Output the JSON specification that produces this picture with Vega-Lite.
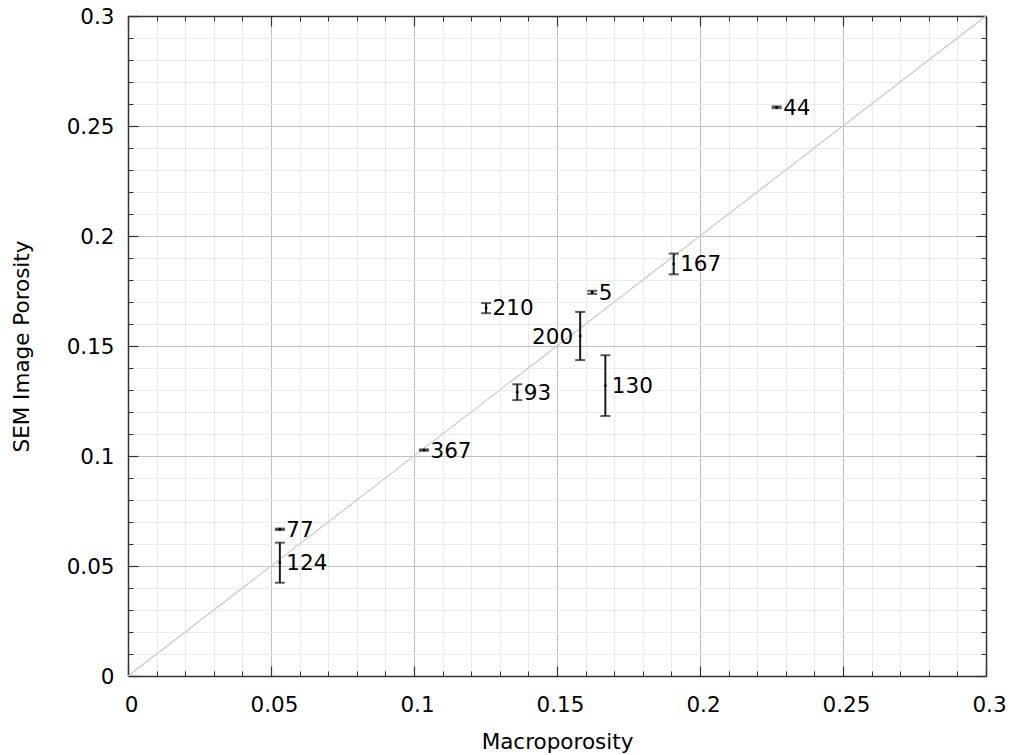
{
  "$schema": "https://vega.github.io/schema/vega-lite/v6.json",
  "width": 858,
  "height": 660,
  "autosize": {"type": "none"},
  "padding": {"left": 128, "top": 16, "right": 26, "bottom": 79},
  "background": "white",
  "config": {
    "font": "DejaVu Sans",
    "view": {"stroke": null},
    "axis": {
      "labelFont": "DejaVu Sans",
      "titleFont": "DejaVu Sans",
      "labelFontSize": 21.5,
      "titleFontSize": 21.5,
      "titleFontWeight": "normal",
      "labelColor": "#000000",
      "titleColor": "#000000",
      "tickColor": "#333333",
      "domainColor": "#333333",
      "labelFlush": false,
      "labelOverlap": false,
      "format": "~g"
    }
  },
  "data": {
    "values": [
      {"name": "44", "x": 0.2268, "y": 0.2585, "lo": 0.2581, "hi": 0.2589},
      {"name": "167", "x": 0.1908, "y": 0.1873, "lo": 0.1826, "hi": 0.1920},
      {"name": "5", "x": 0.1623, "y": 0.1744, "lo": 0.1737, "hi": 0.1751},
      {"name": "210", "x": 0.1252, "y": 0.1673, "lo": 0.1649, "hi": 0.1695},
      {"name": "200", "x": 0.1581, "y": 0.1545, "lo": 0.1436, "hi": 0.1655},
      {"name": "130", "x": 0.1669, "y": 0.1320, "lo": 0.1182, "hi": 0.1458},
      {"name": "93", "x": 0.1361, "y": 0.1290, "lo": 0.1254, "hi": 0.1326},
      {"name": "367", "x": 0.1035, "y": 0.1027, "lo": 0.1024, "hi": 0.1030},
      {"name": "77", "x": 0.0531, "y": 0.0667, "lo": 0.0664, "hi": 0.0670},
      {"name": "124", "x": 0.0531, "y": 0.0515, "lo": 0.0424, "hi": 0.0606}
    ]
  },
  "resolve": {"axis": {"x": "independent", "y": "independent"}},
  "layer": [
    {
      "data": {"values": [{"d": 0}, {"d": 0.3}]},
      "mark": {"type": "line", "color": "#c8c8c8", "strokeWidth": 1.1},
      "encoding": {
        "x": {"field": "d", "type": "quantitative",
          "scale": {"domain": [0, 0.3], "nice": false, "zero": false},
          "axis": {"orient": "bottom", "values": [0.01,0.02,0.03,0.04,0.06,0.07,0.08,0.09,0.11,0.12,0.13,0.14,0.16,0.17,0.18,0.19,0.21,0.22,0.23,0.24,0.26,0.27,0.28,0.29],
            "labels": false, "title": null, "domain": false, "ticks": true, "tickSize": -5, "tickWidth": 1,
            "grid": true, "gridColor": "#ebebeb", "gridWidth": 1}},
        "y": {"field": "d", "type": "quantitative",
          "scale": {"domain": [0, 0.3], "nice": false, "zero": false},
          "axis": {"orient": "left", "values": [0.01,0.02,0.03,0.04,0.06,0.07,0.08,0.09,0.11,0.12,0.13,0.14,0.16,0.17,0.18,0.19,0.21,0.22,0.23,0.24,0.26,0.27,0.28,0.29],
            "labels": false, "title": null, "domain": false, "ticks": true, "tickSize": -5, "tickWidth": 1,
            "grid": true, "gridColor": "#ebebeb", "gridWidth": 1}}
      }
    },
    {
      "mark": {"type": "rule", "color": "#1a1a1a", "strokeWidth": 2},
      "encoding": {
        "x": {"field": "x", "type": "quantitative",
          "scale": {"domain": [0, 0.3], "nice": false, "zero": false},
          "axis": {"orient": "bottom", "values": [0, 0.05, 0.1, 0.15, 0.2, 0.25, 0.3],
            "title": "Macroporosity", "titlePadding": 16, "domain": true, "domainWidth": 1.5,
            "ticks": true, "tickSize": -10, "tickWidth": 1.2, "labelPadding": 28, "labelOffset": 3,
            "grid": true, "gridColor": "#c0c0c0", "gridWidth": 1}},
        "y": {"field": "lo", "type": "quantitative",
          "scale": {"domain": [0, 0.3], "nice": false, "zero": false},
          "axis": {"orient": "left", "values": [0, 0.05, 0.1, 0.15, 0.2, 0.25, 0.3],
            "title": "SEM Image Porosity", "titlePadding": 33, "domain": true, "domainWidth": 1.5,
            "ticks": true, "tickSize": -10, "tickWidth": 1.2, "labelPadding": 24, "labelOffset": 1.5,
            "grid": true, "gridColor": "#c0c0c0", "gridWidth": 1}},
        "y2": {"field": "hi"}
      }
    },
    {
      "mark": {"type": "tick", "orient": "horizontal", "color": "#1a1a1a", "size": 10, "thickness": 2},
      "encoding": {
        "x": {"field": "x", "type": "quantitative",
          "scale": {"domain": [0, 0.3], "nice": false, "zero": false},
          "axis": {"orient": "top", "values": [0.01,0.02,0.03,0.04,0.06,0.07,0.08,0.09,0.11,0.12,0.13,0.14,0.16,0.17,0.18,0.19,0.21,0.22,0.23,0.24,0.26,0.27,0.28,0.29],
            "labels": false, "title": null, "domain": false, "ticks": true, "tickSize": -5, "tickWidth": 1, "grid": false}},
        "y": {"field": "lo", "type": "quantitative",
          "scale": {"domain": [0, 0.3], "nice": false, "zero": false},
          "axis": {"orient": "right", "values": [0.01,0.02,0.03,0.04,0.06,0.07,0.08,0.09,0.11,0.12,0.13,0.14,0.16,0.17,0.18,0.19,0.21,0.22,0.23,0.24,0.26,0.27,0.28,0.29],
            "labels": false, "title": null, "domain": false, "ticks": true, "tickSize": -5, "tickWidth": 1, "grid": false}}
      }
    },
    {
      "mark": {"type": "tick", "orient": "horizontal", "color": "#1a1a1a", "size": 10, "thickness": 2},
      "encoding": {
        "x": {"field": "x", "type": "quantitative",
          "scale": {"domain": [0, 0.3], "nice": false, "zero": false},
          "axis": {"orient": "top", "values": [0, 0.05, 0.1, 0.15, 0.2, 0.25, 0.3],
            "labels": false, "title": null, "domain": true, "domainWidth": 1.5, "ticks": true, "tickSize": -10, "tickWidth": 1.2, "grid": false}},
        "y": {"field": "hi", "type": "quantitative",
          "scale": {"domain": [0, 0.3], "nice": false, "zero": false},
          "axis": {"orient": "right", "values": [0, 0.05, 0.1, 0.15, 0.2, 0.25, 0.3],
            "labels": false, "title": null, "domain": true, "domainWidth": 1.5, "ticks": true, "tickSize": -10, "tickWidth": 1.2, "grid": false}}
      }
    },
    {
      "mark": {"type": "circle", "color": "#000000", "size": 8, "opacity": 1},
      "encoding": {
        "x": {"field": "x", "type": "quantitative", "axis": null},
        "y": {"field": "y", "type": "quantitative", "axis": null}
      }
    },
    {
      "transform": [{"filter": "datum.name != '200'"}],
      "mark": {"type": "text", "align": "left", "baseline": "middle", "dx": 6.5, "dy": 1.5, "fontSize": 21.5, "font": "DejaVu Sans", "color": "#000000"},
      "encoding": {
        "x": {"field": "x", "type": "quantitative", "axis": null},
        "y": {"field": "y", "type": "quantitative", "axis": null},
        "text": {"field": "name"}
      }
    },
    {
      "transform": [{"filter": "datum.name == '200'"}],
      "mark": {"type": "text", "align": "right", "baseline": "middle", "dx": -7, "dy": 1.5, "fontSize": 21.5, "font": "DejaVu Sans", "color": "#000000"},
      "encoding": {
        "x": {"field": "x", "type": "quantitative", "axis": null},
        "y": {"field": "y", "type": "quantitative", "axis": null},
        "text": {"field": "name"}
      }
    }
  ]
}
